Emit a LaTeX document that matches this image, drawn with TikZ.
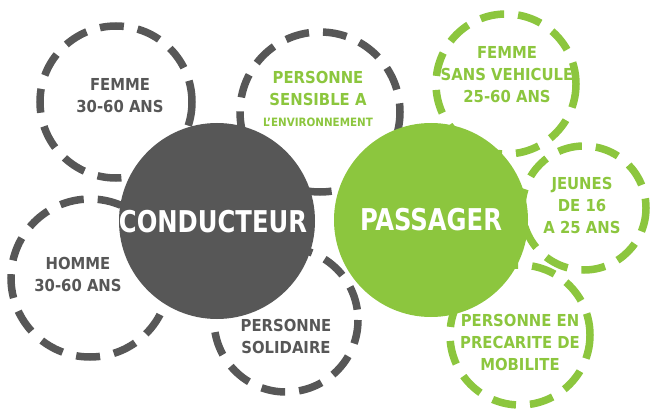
\documentclass[tikz,border=0pt]{standalone}
\usepackage{fontspec}
\setmainfont{DejaVu Sans Condensed}
\definecolor{cgray}{HTML}{575757}
\definecolor{cgreen}{HTML}{8CC63E}
\begin{document}
\begin{tikzpicture}[x=1pt,y=-1pt,
  ring/.style={line width=7.5pt,dash pattern=on 24pt off 14pt},
  grayring/.style={ring,draw=cgray},
  greenring/.style={ring,draw=cgreen},
  lbl/.style={font=\bfseries\fontsize{16.5}{22}\selectfont,align=center,inner sep=0pt},
  big/.style={font=\bfseries\fontsize{30}{34}\selectfont,text=white,inner sep=0pt,xscale=0.9,transform shape}]
\useasboundingbox (0,0) rectangle (650,409);
% dashed rings
\draw[grayring] (116,102) circle[radius=76];
\draw[grayring] (320,112) circle[radius=80];
\draw[grayring] (90,278) circle[radius=79];
\draw[grayring] (286,320) circle[radius=72];
\draw[greenring] (506,84) circle[radius=70];
\draw[greenring] (584,208) circle[radius=62];
\draw[greenring] (520,335) circle[radius=70];
% main discs
\fill[cgray] (217,221) circle[radius=98];
\fill[cgreen] (431,220) circle[radius=97];
\node[big] (cond) at (213,222) {CONDUCTEUR};
\node[big] (pass) at (431,220) {PASSAGER};
% labels
\node[lbl,text=cgray] (f1) at (120,96) {FEMME\\30-60 ANS};
\node[lbl,text=cgreen] (ps) at (318,88) {PERSONNE\\SENSIBLE A};
\node[lbl,text=cgreen,font=\bfseries\fontsize{11.5}{14}\selectfont] (env) at (318,122) {L'ENVIRONNEMENT};
\node[lbl,text=cgreen] (fsv) at (507,75) {FEMME\\SANS VEHICULE\\25-60 ANS};
\node[lbl,text=cgreen] (jeu) at (582,205) {JEUNES\\DE 16\\A 25 ANS};
\node[lbl,text=cgray] (hom) at (78,274) {HOMME\\30-60 ANS};
\node[lbl,text=cgray] (sol) at (286,336) {PERSONNE\\SOLIDAIRE};
\node[lbl,text=cgreen] (pre) at (520,342) {PERSONNE EN\\PRECARITE DE\\MOBILITE};
\end{tikzpicture}
\end{document}
